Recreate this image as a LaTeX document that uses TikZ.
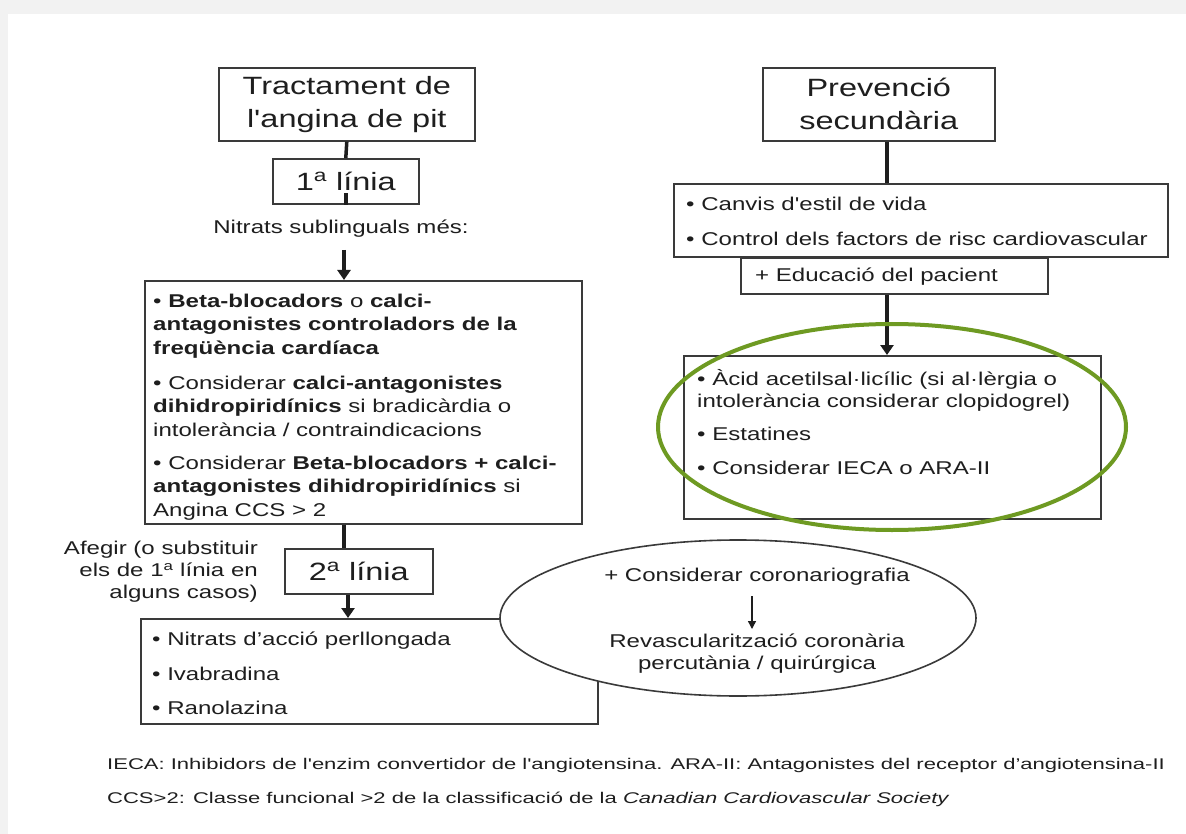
\documentclass[tikz,border=0pt]{standalone}
\usepackage{fontspec}
\setmainfont{Liberation Sans}[FakeStretch=1.3,Ligatures=TeXOff]
\newfontfamily\footfont{Liberation Sans}[FakeStretch=1.42,Ligatures=TeXOff]
\usetikzlibrary{shapes.geometric,arrows.meta}
\definecolor{ink}{HTML}{1E1E1E}
\definecolor{frame}{HTML}{3A3A3A}
\definecolor{bggray}{HTML}{F2F2F2}
\definecolor{olive}{HTML}{6E9A22}
\tikzset{
  box/.style={draw=frame,line width=1.6pt,fill=white,inner sep=0pt,anchor=north west},
  txt/.style={text=ink,inner sep=0pt,font=\fontsize{18.5}{23.5}\selectfont,align=left,anchor=base west},
  mid/.style={text=ink,inner sep=0pt,font=\fontsize{18.5}{22}\selectfont,align=center},
  big/.style={text=ink,inner sep=0pt,font=\fontsize{25}{33}\selectfont,align=center},
  foot/.style={text=ink,inner sep=0pt,anchor=base west,font=\footfont\fontsize{15.5}{20}\selectfont},
  conn/.style={line width=3.5pt,draw=ink,-{Triangle[width=13pt,length=10pt]}},
  plain/.style={line width=3.5pt,draw=ink},
  thin/.style={line width=1.4pt,draw=ink,-{Triangle[width=8pt,length=8pt]}},
}
\begin{document}
\begin{tikzpicture}[x=1pt,y=-1pt]
\useasboundingbox (0,0) rectangle (1186,834);
\fill[bggray] (0,0) rectangle (1186,834);
\fill[white] (8,14) rectangle (1186,834);

% left column
\node[box,minimum width=256pt,minimum height=73pt] (t1) at (218,67) {};
\node[big] (t1t) at (t1.center) {Tractament de\\l'angina de pit};
\node[box,minimum width=146pt,minimum height=45pt] (l1) at (272,158) {};
\node[big] (l1t) at (l1.center) {1\textsuperscript{a} línia};
\node[mid,anchor=north] (ns) at (341,220) {Nitrats sublinguals més:};
\node[box,minimum width=437pt,minimum height=243pt] (b1) at (144,280) {};
\node[txt] (p1) at (153,354) {• \textbf{Beta-blocadors} o \textbf{calci-}\\\textbf{antagonistes controladors de la}\\\textbf{freqüència cardíaca}};
\node[txt] (p2) at (153,436) {• Considerar \textbf{calci-antagonistes}\\\textbf{dihidropiridínics} si bradicàrdia o\\intolerància / contraindicacions};
\node[txt] (p3) at (153,516) {• Considerar \textbf{Beta-blocadors + calci-}\\\textbf{antagonistes dihidropiridínics} si\\Angina CCS > 2};
\node[box,minimum width=148pt,minimum height=45pt] (l2) at (284,548) {};
\node[big] (l2t) at (l2.center) {2\textsuperscript{a} línia};
\node[mid,align=right,anchor=north east] (af) at (258,541) {Afegir (o substituir\\els de 1\textsuperscript{a} línia en\\alguns casos)};
\node[box,minimum width=457pt,minimum height=105pt] (b2) at (140,618) {};
\node[txt] (n1) at (152,645) {• Nitrats d’acció perllongada};
\node[txt] (n2) at (152,680) {• Ivabradina};
\node[txt] (n3) at (152,714) {• Ranolazina};

\node[draw=frame,line width=1.6pt,fill=white,ellipse,minimum width=476pt,minimum height=156pt,inner sep=0pt] (el) at (738,618) {};
\node[mid] (c1) at (757,577) {+ Considerar coronariografia};
\node[mid,anchor=north] (c2) at (757,634) {Revascularització coronària\\percutània / quirúrgica};
\coordinate (ca) at (752,596);
\coordinate (cb) at (752,629);
\draw[thin] (ca) -- (cb);

\draw[plain] (t1.south) -- (l1.north);
\draw[plain] (l1.south) -- ++(0,12pt) coordinate (l1b);
\coordinate (nsb) at (344,250);
\draw[conn] (nsb) -- (b1.north -| nsb);
\coordinate (x1) at (344,0);
\coordinate (x2) at (348,0);
\draw[plain] (b1.south -| x1) -- (l2.north -| x1);
\draw[conn] (l2.south -| x2) -- (b2.north -| x2);

% right column
\node[box,minimum width=232pt,minimum height=73pt] (t2) at (762,67) {};
\node[big] (t2t) at (t2.center) {Prevenció\\secundària};
\node[box,minimum width=494pt,minimum height=73pt] (cv) at (673,183) {};
\node[txt] (v1) at (686,211) {• Canvis d'estil de vida};
\node[txt] (v2) at (686,246) {• Control dels factors de risc cardiovascular};
\node[box,minimum width=307pt,minimum height=36pt] (ed) at (740,257) {};
\node[txt] (edt) at (755,282) {+ Educació del pacient};
\node[box,minimum width=417pt,minimum height=163pt] (b3) at (683,355) {};
\node[txt,font=\fontsize{18.5}{22}\selectfont] (r1) at (697,407) {• Àcid acetilsal·licílic (si al·lèrgia o\\intolerància considerar clopidogrel)};
\node[txt] (r2) at (697,440) {• Estatines};
\node[txt] (r3) at (697,474) {• Considerar IECA o ARA-II};
\coordinate (x3) at (887,0);
\draw[plain] (t2.south -| x3) -- (cv.north -| x3);
\draw[conn] (ed.south -| x3) -- (b3.north -| x3);
\node[draw=olive,line width=4pt,ellipse,minimum width=468pt,minimum height=206pt,inner sep=0pt] (ge) at (892,427) {};

% footnotes
\node[foot] (f1) at (107,769) {IECA: Inhibidors de l'enzim convertidor de l'angiotensina. ARA-II: Antagonistes del receptor d’angiotensina-II};
\node[foot] (f2) at (107,803) {CCS>2: Classe funcional >2 de la classificació de la \textit{Canadian Cardiovascular Society}};
\end{tikzpicture}
\end{document}
